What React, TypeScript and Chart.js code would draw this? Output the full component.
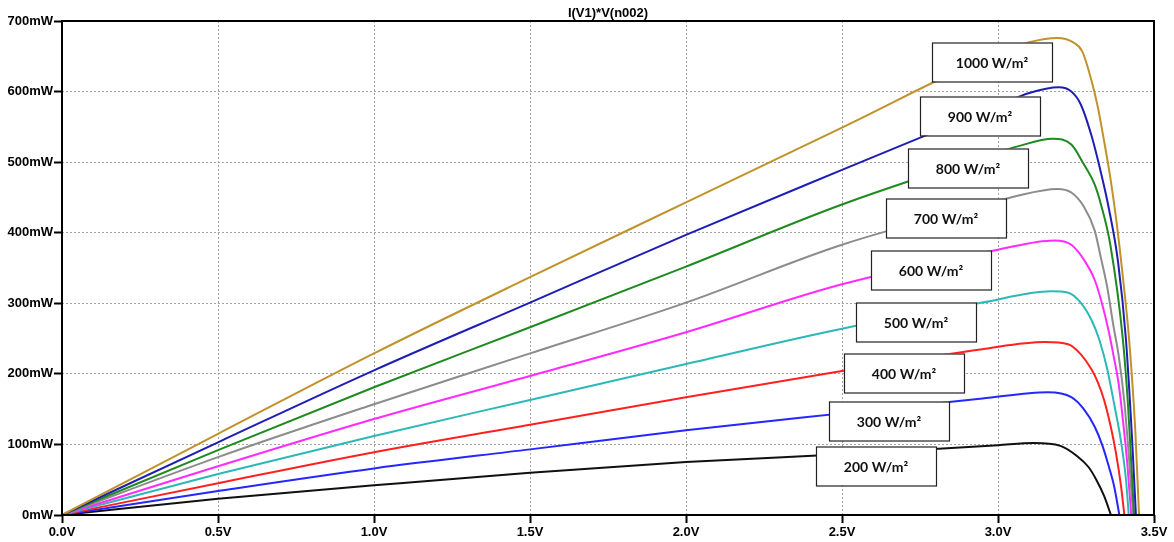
import React, { useEffect, useRef } from "react";
import { Chart, registerables } from "chart.js";

Chart.register(...registerables);

// Irradiance series labels
const irradianceLabels = [
  "1000 W/m²",
  "900 W/m²",
  "800 W/m²",
  "700 W/m²",
  "600 W/m²",
  "500 W/m²",
  "400 W/m²",
  "300 W/m²",
  "200 W/m²",
];

// Voltage (V) and power (mW) samples
const v1000 = [0, 0.5, 1.0, 1.5, 2.0, 2.5, 3.0, 3.1, 3.19, 3.24, 3.27, 3.3, 3.32, 3.34, 3.36, 3.38, 3.4, 3.42, 3.44, 3.452];
const p1000 = [0, 115, 229, 337, 443, 549, 655, 670, 676, 670, 657, 615, 578, 530, 478, 415, 338, 250, 120, 0];

const v900 = [0, 0.5, 1.0, 1.5, 2.0, 2.5, 3.0, 3.1, 3.195, 3.235, 3.265, 3.3, 3.33, 3.355, 3.385, 3.41, 3.43, 3.442];
const p900 = [0, 103, 205, 301, 397, 489, 580, 598, 606, 600, 582, 537, 485, 435, 358, 249, 106, 0];

const v800 = [0, 0.5, 1.0, 1.5, 2.0, 2.5, 3.0, 3.06, 3.176, 3.235, 3.275, 3.31, 3.33, 3.36, 3.4, 3.417, 3.436];
const p800 = [0, 92, 181, 266, 352, 440, 514, 522, 533, 525, 497, 468, 440, 383, 250, 154, 0];

const v700 = [0, 0.5, 1.0, 1.5, 2.0, 2.5, 3.0, 3.05, 3.19, 3.235, 3.275, 3.31, 3.33, 3.35, 3.37, 3.387, 3.405, 3.42, 3.433];
const p700 = [0, 82, 157, 229, 301, 383, 445, 451, 462, 457, 437, 403, 364, 323, 268, 225, 160, 80, 0];

const v600 = [0, 0.5, 1.0, 1.5, 2.0, 2.5, 3.0, 3.18, 3.235, 3.275, 3.31, 3.335, 3.355, 3.372, 3.387, 3.401, 3.415, 3.427];
const p600 = [0, 69, 136, 197, 259, 327, 376, 389, 383, 362, 333, 297, 260, 222, 185, 132, 70, 0];

const v500 = [0, 0.5, 1.0, 1.5, 2.0, 2.5, 2.95, 3.17, 3.225, 3.265, 3.3, 3.325, 3.35, 3.372, 3.394, 3.41, 3.419];
const p500 = [0, 58, 112, 163, 214, 264, 301, 317, 315, 301, 276, 248, 207, 158, 105, 51, 0];

const v400 = [0, 0.5, 1.0, 1.5, 2.0, 2.5, 2.95, 3.15, 3.225, 3.265, 3.3, 3.32, 3.34, 3.362, 3.378, 3.394, 3.405];
const p400 = [0, 45, 89, 128, 167, 204, 235, 245, 242, 228, 206, 188, 163, 124, 88, 42, 0];

const v300 = [0, 0.5, 1.0, 1.5, 2.0, 2.5, 2.95, 3.16, 3.235, 3.275, 3.31, 3.335, 3.355, 3.372, 3.389];
const p300 = [0, 34, 66, 93, 120, 144, 165, 174, 167, 150, 125, 98, 69, 41, 0];

const v200 = [0, 0.5, 1.0, 1.5, 2.0, 2.5, 3.0, 3.115, 3.2, 3.255, 3.29, 3.315, 3.34, 3.362];
const p200 = [0, 23, 42, 60, 75, 86, 99, 102, 98, 83, 68, 50, 27, 0];

const voltages = [v1000, v900, v800, v700, v600, v500, v400, v300, v200];
const powers = [p1000, p900, p800, p700, p600, p500, p400, p300, p200];

const seriesColors = [
  "#C0922A",
  "#1E1EB4",
  "#1F8A1F",
  "#8C8C8C",
  "#FF2BFF",
  "#2DB8B8",
  "#FF2020",
  "#2626FF",
  "#101010",
];

// Label box anchors (V, mW)
const labelV = [2.98, 2.942, 2.905, 2.834, 2.785, 2.738, 2.698, 2.652, 2.61];
const labelP = [642, 566, 492, 421, 347, 274, 201, 133, 70];

const chartTitle = "I(V1)*V(n002)";

const overlayPlugin = {
  id: "overlay",
  afterDatasetsDraw(chart: any) {
    const { ctx, chartArea: a, scales } = chart;
    ctx.save();
    // frame
    ctx.strokeStyle = "#000";
    ctx.lineWidth = 2;
    ctx.strokeRect(a.left, a.top, a.right - a.left, a.bottom - a.top);
    // label boxes
    ctx.font = "bold 14px Lato";
    ctx.textAlign = "center";
    ctx.textBaseline = "middle";
    for (let i = 0; i < irradianceLabels.length; i++) {
      const cx = Math.round(scales.x.getPixelForValue(labelV[i]));
      const cy = Math.round(scales.y.getPixelForValue(labelP[i]));
      const w = 120;
      const h = 39;
      ctx.fillStyle = "#fff";
      ctx.fillRect(cx - w / 2, cy - h / 2, w, h);
      ctx.lineWidth = 1.2;
      ctx.strokeStyle = "#222";
      ctx.strokeRect(cx - w / 2 + 0.5, cy - h / 2 + 0.5, w, h);
      ctx.fillStyle = "#111";
      ctx.fillText(irradianceLabels[i], cx, cy + 1);
    }
    // title
    ctx.font = 'bold 13px "Liberation Sans", Arial, sans-serif';
    ctx.fillStyle = "#000";
    ctx.textBaseline = "alphabetic";
    ctx.fillText(chartTitle, (a.left + a.right) / 2, 17);
    ctx.restore();
  },
};

export default function App() {
  const canvasRef = useRef<HTMLCanvasElement | null>(null);

  useEffect(() => {
    if (!canvasRef.current) return;
    const datasets = irradianceLabels.map((label, i) => ({
      label,
      data: voltages[i].map((v, j) => ({ x: v, y: powers[i][j] })),
      borderColor: seriesColors[i],
      backgroundColor: seriesColors[i],
      borderWidth: 2,
      pointRadius: 0,
      cubicInterpolationMode: "monotone" as const,
      fill: false,
    }));
    const tickFont = { family: '"Liberation Sans", Arial, sans-serif', size: 13, weight: "bold" as const };
    const chart = new Chart(canvasRef.current, {
      type: "line",
      data: { datasets },
      options: {
        responsive: false,
        animation: false,
        layout: { padding: { top: 21, right: 20, left: 0, bottom: 0 } },
        plugins: {
          legend: { display: false },
          tooltip: { enabled: false },
          title: { display: false },
        },
        scales: {
          x: {
            type: "linear",
            min: 0,
            max: 3.5,
            afterFit: (s: any) => {
              s.height = 27;
            },
            ticks: {
              stepSize: 0.5,
              autoSkip: false,
              maxRotation: 0,
              color: "#000",
              font: tickFont,
              padding: 2,
              callback: (v: any) => Number(v).toFixed(1) + "V",
            },
            grid: {
              color: "#a4a4a4",
              lineWidth: 1,
              tickLength: 8,
              tickColor: "#000",
              tickWidth: 2,
            },
            border: { display: false, dash: [2, 2] },
          },
          y: {
            type: "linear",
            min: 0,
            max: 700,
            afterFit: (s: any) => {
              s.width = 62;
            },
            ticks: {
              stepSize: 100,
              autoSkip: false,
              color: "#000",
              font: tickFont,
              padding: 1,
              callback: (v: any) => v + "mW",
            },
            grid: {
              color: "#a4a4a4",
              lineWidth: 1,
              tickLength: 8,
              tickColor: "#000",
              tickWidth: 2,
            },
            border: { display: false, dash: [2, 2] },
          },
        },
      },
      plugins: [overlayPlugin],
    });
    return () => chart.destroy();
  }, []);

  return (
    <div style={{ position: "fixed", left: 0, top: 0, width: 1174, height: 542, background: "#fff" }}>
      <canvas ref={canvasRef} width={1174} height={542} />
    </div>
  );
}
